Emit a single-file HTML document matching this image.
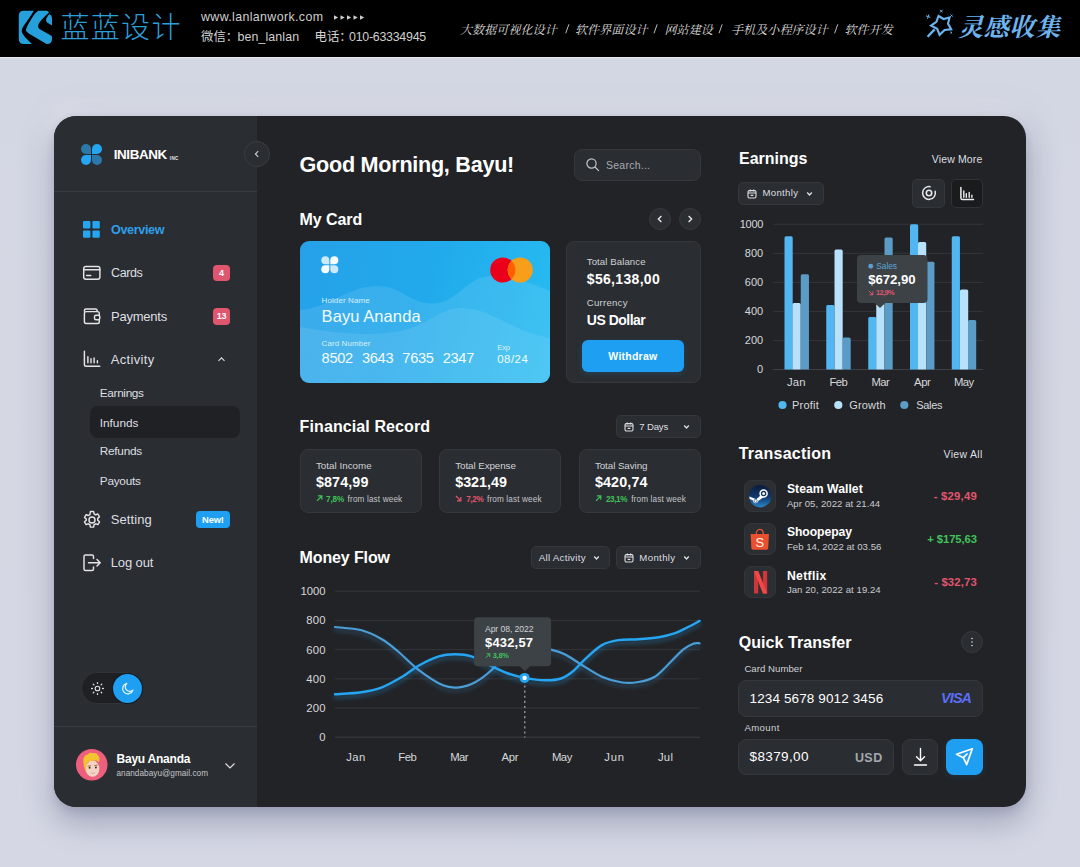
<!DOCTYPE html>
<html><head><meta charset="utf-8"><title>INIBANK Dashboard</title>
<style>
*{box-sizing:border-box;margin:0;padding:0}
html,body{width:1080px;height:867px;overflow:hidden}
body{position:relative;background:#d4d7e2;font-family:"Liberation Sans",sans-serif;color:#fff;-webkit-font-smoothing:antialiased}
.a{position:absolute}
.t{position:absolute;white-space:nowrap;line-height:1;}
.b{font-weight:bold}
svg{position:absolute;overflow:visible}
#bg{left:0;top:0;width:1080px;height:867px;background:linear-gradient(180deg,#d3d7e3 0%,#d5d8e3 50%,#d5d8e4 100%)}
#hdr{left:0;top:0;width:1080px;height:56.7px;background:#000;box-shadow:0 1px 1px rgba(240,242,250,.6)}
#panel{left:54px;top:116px;width:972px;height:691px;border-radius:22px;background:#222326;box-shadow:0 18px 30px rgba(85,90,125,.30),0 4px 8px rgba(85,90,125,.2),0 0 36px rgba(95,100,140,.2),-6px -10px 22px rgba(255,255,255,.42);overflow:hidden}
#side{left:0;top:0;width:203px;height:691px;background:#2a2d31}
.box{position:absolute;background:#2a2d31;border:1px solid #34373c;border-radius:8px}
.dd{position:absolute;background:#2a2d31;border:1px solid #34373b;border-radius:5px}
.g{color:#c9cbcf}
.nav{font-size:13px;color:#d4d6d9}
.sub{font-size:11.5px;color:#d4d6d9}
.h2{font-size:16px;font-weight:bold;letter-spacing:.1px}
.lbl{font-size:9.5px;color:#d0d2d6}
.val{font-size:14px;font-weight:bold}
.tiny{font-size:8px;color:#c4c6ca}
.ax{font-size:11px;color:#d6d8db}
.badge{position:absolute;border-radius:4px;color:#fff;font-size:8.5px;font-weight:bold;text-align:center}
</style></head><body>
<div id="bg" class="a"></div>
<div id="hdr" class="a"></div>

<svg id="hsvg" style="left:0;top:0" width="1080" height="57" viewBox="0 0 1080 57">
<g transform="translate(18.8,10.8)" fill="#26a0da"><path d="M5 0H15C12 5.5 8 10.5 5.3 14.5C2.5 18.5 2.3 20.5 4.3 23.6C6.5 27 10 30 13.2 33.2H5Q0 33.2 0 28.200V5Q0 0 5 0Z"/><path d="M19.5 0H27.5Q29.6 0 30.2 1.800C25.6 5.800 22 10 20.600 11.900C19 14 18.800 16.800 21.100 18.500L32.500 25Q33.2 25.400 33.200 26.500V28.200Q33.200 33.200 28.200 33.200H27.700L9.900 22.600C7 20.500 6.800 19.500 7.600 17.500C9 14 12 9 15.500 3.800Q17 1.500 19.500 0Z"/><path d="M30.7 3.300Q33.2 4.500 33.200 7.500V14.700L28.700 11.900Q26.500 10.300 27.700 7.400Q28.800 5.300 30.700 3.300Z"/></g>
<text x="60.5" y="38" font-family="'Liberation Sans','Noto Sans CJK SC',sans-serif" font-size="29" font-weight="300" letter-spacing="1.3" fill="#2a9fd8">蓝蓝设计</text>
<path fill="#cfcfcf" d="M334.0 15.2L338.2 17.5L334.0 19.8ZM340.5 15.2L344.7 17.5L340.5 19.8ZM347.0 15.2L351.2 17.5L347.0 19.8ZM353.5 15.2L357.7 17.5L353.5 19.8ZM360.0 15.2L364.2 17.5L360.0 19.8Z"/>
<text x="201" y="40.5" font-family="'Liberation Sans','Noto Sans CJK SC',sans-serif" font-size="12.4" fill="#d4d4d4">微信：</text>
<text x="314.5" y="40.5" font-family="'Liberation Sans','Noto Sans CJK SC',sans-serif" font-size="12.4" fill="#d4d4d4">电话：</text>
<g font-family="'Liberation Serif','Noto Serif CJK SC',serif" font-size="12.1" font-style="italic" fill="#dcdcdc">
<text x="460" y="33.5">大数据可视化设计</text>
<text x="575" y="33.5">软件界面设计</text>
<text x="664.5" y="33.5">网站建设</text>
<text x="731" y="33.5">手机及小程序设计</text>
<text x="844.5" y="33.5">软件开发</text>
</g>
<path stroke="#d0d0d0" stroke-width=".9" fill="none" d="M565.7 33.3L568.9 24.3M654.0 33.3L657.2 24.3M719.0 33.3L722.2 24.3M834.6 33.3L837.8 24.3"/>
<text x="958" y="35.5" font-family="'Liberation Serif','Noto Serif CJK SC',serif" font-size="25" font-style="italic" font-weight="bold" letter-spacing="0.8" fill="#6db3ee">灵感收集</text>
<g stroke="#6db3ee" fill="none" stroke-width="2.1" stroke-linejoin="miter" transform="translate(0,-0.8)"><path d="M938.5 16.8L943.6 19.8L949.6 18.2L948 24.4L951.2 30.2L944.6 30.8L939.6 35.6L937.2 29.6L931 26.4L936.4 22.6Z"/><path d="M934.6 30.2L927.6 37.6" stroke-width="2.4"/><path d="M926 16.6L930.4 18.2M928.9 15.2L927.5 19.6M940 10.6L942.6 13.2M942.6 10.6L940 13.2M950.6 15.4L952.6 17.4M952.6 15.4L950.6 17.4M950.4 32.6L952 34.2M952 32.6L950.4 34.2" stroke-width="1"/></g>
</svg>
<div class="t" style="letter-spacing:0.37px;left:201px;top:11px;font-size:12.4px;color:#cfcfcf">www.lanlanwork.com</div>
<div class="t" style="letter-spacing:0.10px;left:237.5px;top:31px;font-size:12.4px;color:#cfcfcf">ben_lanlan</div>
<div class="t" style="letter-spacing:-0.25px;left:349px;top:31px;font-size:12.4px;color:#cfcfcf">010-63334945</div>
<div id="panel" class="a"><div id="side" class="a"></div><div class="a" style="left:0;top:74.5px;width:203px;height:1px;background:#383b40"></div><div class="a" style="left:0;top:609.5px;width:203px;height:1px;background:#383b40"></div></div>
<svg style="left:81.3px;top:143.8px" width="21" height="21" viewBox="0 0 21 21" ><path d="M5 0A5 5 0 0 0 0 5A5 5 0 0 0 5 10H10V5A5 5 0 0 0 5 0Z" fill="#2b78ab"/><path d="M16 0A5 5 0 0 1 21 5A5 5 0 0 1 16 10H11V5A5 5 0 0 1 16 0Z" fill="#25a5f2"/><path d="M5 21A5 5 0 0 1 0 16A5 5 0 0 1 5 11H10V16A5 5 0 0 1 5 21Z" fill="#25a5f2"/><path d="M16 21A5 5 0 0 0 21 16A5 5 0 0 0 16 11H11V16A5 5 0 0 0 16 21Z" fill="#2b78ab"/></svg>
<div class="t" style="letter-spacing:-0.37px;left:113.7px;top:148px;font-size:13.4px;font-weight:bold">INIBANK</div>
<div class="t" style="letter-spacing:0.34px;left:169.8px;top:157px;font-size:4.6px;font-weight:bold;color:#e4e6e9">INC</div>
<div class="a" style="left:243.6px;top:141.3px;width:26px;height:26px;background:#2a2d31;border-radius:13px;border:1px solid #3a3d42"></div>
<svg style="left:252.6px;top:150.3px" width="8" height="8" viewBox="0 0 8 8" ><path d="M5.2 1.2L2.4 4L5.2 6.8" stroke="#d0d2d6" stroke-width="1.1" fill="none"/></svg>
<svg style="left:83.2px;top:221.4px" width="16.8" height="16.8" viewBox="0 0 16.8 16.8" fill="#25a5f2"><rect x="0" y="0" width="7.4" height="7.4" rx="1"/><rect x="9.4" y="0" width="7.4" height="7.4" rx="1"/><rect x="0" y="9.4" width="7.400" height="7.400" rx="1"/><rect x="9.400" y="9.400" width="7.400" height="7.400" rx="1"/></svg>
<div class="t" style="letter-spacing:-0.35px;left:111px;top:224px;font-size:12.6px;font-weight:bold;color:#2f9fe8">Overview</div>
<svg style="left:0px;top:0px" width="1080" height="867" viewBox="0 0 1080 867" ><g fill="none" stroke="#e2e4e7" stroke-width="1.45" stroke-linecap="round" stroke-linejoin="round"><rect x="83.7" y="266.500" width="16.200" height="12.800" rx="2.200"/><path d="M83.700 269.700H99.900M86.600 275.500H90.800"/><path d="M84.400 311.200V310.500Q84.400 309 85.900 309H95.600Q97.100 309 97.100 310.500V311.600"/><rect x="84.400" y="311.600" width="14.900" height="11.900" rx="1.800"/><rect x="94.500" y="315.200" width="5.300" height="4.600" rx="1.500" fill="#2a2d31"/><path d="M84.400 351.200V364.500Q84.400 366.300 86.200 366.300H99.800M87.900 356.600V362.800M91 358.800V362.800M94.100 358V362.800M97.400 360.800V362.800"/></g></svg>
<div class="t" style="letter-spacing:-0.39px;left:111px;top:267px;font-size:12.5px;color:#dddfe2">Cards</div>
<div class="badge" style="left:213.1px;top:264.900px;width:16.700px;height:16.500px;background:#e0566f"></div>
<div class="t" style="left:121.4px;width:200px;text-align:center;top:269px;font-size:9px;font-weight:bold">4</div>
<div class="t" style="letter-spacing:-0.23px;left:111px;top:310px;font-size:13px;color:#dddfe2">Payments</div>
<div class="badge" style="left:213.1px;top:308.100px;width:16.700px;height:16.500px;background:#e0566f"></div>
<div class="t" style="letter-spacing:-0.42px;left:121.4px;width:200px;text-align:center;top:312px;font-size:9px;font-weight:bold">13</div>
<div class="t" style="letter-spacing:0.35px;left:110.7px;top:353px;font-size:13px;color:#dddfe2">Activity</div>
<svg style="left:217px;top:355.3px" width="9" height="8" viewBox="0 0 9 8" ><path d="M1.5 5.800L4.500 2.800L7.500 5.800" stroke="#dddfe2" stroke-width="1.100" fill="none"/></svg>
<div class="a" style="left:89.6px;top:406.3px;width:150.4px;height:31.8px;background:#202124;border-radius:8px"></div>
<div class="t" style="letter-spacing:-0.34px;left:99.8px;top:388px;font-size:11.8px;color:#dddfe2">Earnings</div>
<div class="t" style="letter-spacing:-0.02px;left:99.8px;top:418px;font-size:11.8px;color:#dddfe2">Infunds</div>
<div class="t" style="letter-spacing:-0.26px;left:99.8px;top:446px;font-size:11.8px;color:#dddfe2">Refunds</div>
<div class="t" style="letter-spacing:-0.26px;left:99.8px;top:476px;font-size:11.8px;color:#dddfe2">Payouts</div>
<svg style="left:82px;top:509.5px" width="20" height="20" viewBox="0 0 20 20" fill="none" stroke="#e2e4e7" stroke-width="1.450" stroke-linejoin="round"><circle cx="10" cy="10" r="3"/><path d="M8.4 1.500h3.200l.5 2.400 1.500.9 2.300-.8 1.600 2.800-1.800 1.600v1.800l1.800 1.600-1.600 2.800-2.300-.8-1.500.9-.5 2.400H8.400l-.5-2.400-1.500-.9-2.300.8-1.600-2.800 1.800-1.600V9.100L2.500 7.500l1.600-2.800 2.300.8 1.500-.9z"/></svg>
<div class="t" style="letter-spacing:0.10px;left:110.7px;top:513px;font-size:13px;color:#dddfe2">Setting</div>
<div class="badge" style="left:195.8px;top:511.200px;width:34.200px;height:16.400px;background:#1e9ff2"></div>
<div class="t" style="letter-spacing:-0.17px;left:112.9px;width:200px;text-align:center;top:516px;font-size:9.3px;font-weight:bold">New!</div>
<svg style="left:82px;top:552.5px" width="20" height="20" viewBox="0 0 20 20" fill="none" stroke="#e2e4e7" stroke-width="1.450" stroke-linejoin="round" stroke-linecap="round"><path d="M11.5 5.500V3.500Q11.500 2 10 2H3.500Q2 2 2 3.500V16Q2 17.500 3.500 17.500H10Q11.500 17.500 11.500 16V14"/><path d="M6.500 9.800H18M15 6.500L18.200 9.800L15 13"/></svg>
<div class="t" style="letter-spacing:-0.11px;left:110.7px;top:556px;font-size:13px;color:#dddfe2">Log out</div>
<div class="a" style="left:81.4px;top:672.4px;width:61.5px;height:32px;background:#1f2023;border-radius:16px;border:1px solid #303337"></div>
<div class="a" style="left:113.1px;top:674.2px;width:29px;height:29px;background:#1e9ff2;border-radius:14.5px;box-shadow:0 0 0 1px #14171b"></div>
<svg style="left:89.6px;top:681.2px" width="15" height="15" viewBox="0 0 15 15" fill="none" stroke="#dddfe2" stroke-width="1.100"><circle cx="7.5" cy="7.500" r="2.300"/><path d="M7.500 1.600V2.400M7.500 12.600V13.400M1.600 7.500H2.400M12.600 7.500H13.400M3.300 3.300L3.900 3.900M11.100 11.100L11.700 11.700M3.300 11.700L3.900 11.100M11.100 3.900L11.700 3.300" stroke-width="1.300" stroke-linecap="round"/></svg>
<svg style="left:120.8px;top:682px" width="13.4" height="13.4" viewBox="0 0 14 14" fill="none" stroke="#e8f6ff" stroke-width="1.300" stroke-linejoin="round"><path d="M6 1.500A5.500 5.500 0 1 0 12.500 8.500A4.600 4.600 0 0 1 6 1.500Z"/></svg>
<svg style="left:76.2px;top:748.5px" width="31.5" height="31.5" viewBox="0 0 31.5 31.5" ><circle cx="15.75" cy="15.750" r="15.750" fill="#ee5f7e"/><path d="M8 14C7.200 17 8.200 21.500 10.500 23.500L11 15Z" fill="#ee9a2e"/><ellipse cx="16.500" cy="19.700" rx="6.900" ry="8.100" fill="#f3d3c3"/><path d="M7.600 14.500C6.500 9 9 5.600 12 5.600C13 3.700 15.200 3.300 16.700 4.300C18.700 3.300 21.200 4.200 21.700 6.200C23.700 7.200 24 10.200 23 13C20.500 11 17.200 11.200 14.700 11.900C12.200 12.500 10.800 13.700 10.400 16.200L10.200 20.500C8.600 19 7.900 17 7.600 14.500Z" fill="#f3c330"/><path d="M11.600 17.200L15 16.700M18.300 16.500L21.600 16.200" stroke="#9a6a40" stroke-width=".9"/><circle cx="13.600" cy="18.800" r=".95" fill="#3a2a25"/><circle cx="19.900" cy="18.500" r=".95" fill="#3a2a25"/><path d="M14.800 24Q17 25 19.200 23.700" stroke="#c89a8a" stroke-width=".7" fill="none"/></svg>
<div class="t" style="letter-spacing:-0.23px;left:116.5px;top:753px;font-size:12px;font-weight:bold">Bayu Ananda</div>
<div class="t" style="letter-spacing:0.04px;left:116.5px;top:770px;font-size:8.2px;color:#c4c6ca">anandabayu@gmail.com</div>
<svg style="left:224px;top:761.5px" width="12" height="8" viewBox="0 0 12 8" ><path d="M1.5 1.500L6 6L10.500 1.500" stroke="#dddfe2" stroke-width="1.200" fill="none"/></svg>
<div class="t" style="letter-spacing:-0.27px;left:299.6px;top:154px;font-size:21.6px;font-weight:bold">Good Morning, Bayu!</div>
<div class="box" style="left:573.6px;top:149px;width:127.6px;height:32px"></div>
<svg style="left:585px;top:157.2px" width="15" height="15" viewBox="0 0 15 15" fill="none" stroke="#c4c6ca" stroke-width="1.200"><circle cx="6.5" cy="6.500" r="4.600"/><path d="M10 10L13.600 13.600" stroke-linecap="round"/></svg>
<div class="t" style="letter-spacing:0.25px;left:606px;top:160px;font-size:10.5px;color:#a9acb2">Search...</div>
<div class="t" style="letter-spacing:-0.07px;left:299.6px;top:212px;font-size:16px;font-weight:bold">My Card</div>
<div class="a" style="left:649px;top:208.1px;width:22px;height:22px;background:#2a2d31;border-radius:11px;border:1px solid #36393e"></div>
<div class="a" style="left:679px;top:208.1px;width:22px;height:22px;background:#2a2d31;border-radius:11px;border:1px solid #36393e"></div>
<svg style="left:655.8px;top:215.1px" width="8" height="8" viewBox="0 0 8 8" ><path d="M5.400 1L2.400 4L5.400 7" stroke="#dddfe2" stroke-width="1.500" fill="none"/></svg>
<svg style="left:686.2px;top:215.1px" width="8" height="8" viewBox="0 0 8 8" ><path d="M2.600 1L5.600 4L2.600 7" stroke="#dddfe2" stroke-width="1.500" fill="none"/></svg>
<div class="a" style="left:299.6px;top:240.800px;width:250.100px;height:141.800px;border-radius:9px;overflow:hidden;background:linear-gradient(105deg,#26a1e9 0%,#21a9eb 45%,#27bcf2 100%)"><svg style="left:0;top:0" width="250" height="142" viewBox="0 0 250 142"><path d="M0 69C28 67 50 45 76 45C102 45 110 62.500 132 62.500C158 62.500 166 35 192 35C216 35 234 44 251 50V142H0Z" fill="#fff" opacity=".10"/><path d="M0 86C35 92 70 96 100 90C130 84 138 67 162 67C192 67 215 93 251 97V142H0Z" fill="#fff" opacity=".09"/><circle cx="202.8" cy="29" r="12.600" fill="#eb001b"/><circle cx="220.200" cy="29" r="12.600" fill="#f79e1b"/><path d="M211.500 19.900A12.600 12.600 0 0 1 211.500 38.100A12.600 12.600 0 0 1 211.500 19.900Z" fill="#ff5f00"/><g fill="#f8fdff" transform="translate(21.3,15.300)"><path d="M4 0A4 4 0 0 0 0 4A4 4 0 0 0 4 8H8V4A4 4 0 0 0 4 0Z" opacity=".78"/><path d="M13 0A4 4 0 0 1 17 4A4 4 0 0 1 13 8H9V4A4 4 0 0 1 13 0Z"/><path d="M4 17A4 4 0 0 1 0 13A4 4 0 0 1 4 9H8V13A4 4 0 0 1 4 17Z"/><path d="M13 17A4 4 0 0 0 17 13A4 4 0 0 0 13 9H9V13A4 4 0 0 0 13 17Z" opacity=".78"/></g></svg></div>
<div class="t" style="letter-spacing:0.09px;left:321.6px;top:297px;font-size:8px;color:#d8f0fc">Holder Name</div>
<div class="t" style="letter-spacing:0.08px;left:321.6px;top:308px;font-size:16.5px;color:#f4fbff">Bayu Ananda</div>
<div class="t" style="letter-spacing:0.09px;left:321.6px;top:340px;font-size:8px;color:#d8f0fc">Card Number</div>
<div class="t" style="letter-spacing:-0.29px;left:321.6px;top:351px;font-size:14.6px;color:#f4fbff;word-spacing:5.3px">8502 3643 7635 2347</div>
<div class="t" style="letter-spacing:-0.22px;left:497.2px;top:344px;font-size:7.8px;color:#d8f0fc">Exp</div>
<div class="t" style="letter-spacing:0.52px;left:497.2px;top:354px;font-size:11.4px;color:#f4fbff">08/24</div>
<div class="box" style="left:566px;top:240.8px;width:135.2px;height:141.8px"></div>
<div class="t" style="letter-spacing:0.09px;left:586.8px;top:257px;font-size:9.6px;color:#d0d2d6">Total Balance</div>
<div class="t" style="letter-spacing:0.32px;left:586.8px;top:272px;font-size:14px;font-weight:bold">$56,138,00</div>
<div class="t" style="letter-spacing:0.25px;left:586.8px;top:298px;font-size:9.6px;color:#d0d2d6">Currency</div>
<div class="t" style="letter-spacing:-0.50px;left:586.8px;top:313px;font-size:14px;font-weight:bold">US Dollar</div>
<div class="a" style="left:582.3px;top:339.8px;width:102px;height:31.8px;background:#1e9ff2;border-radius:6px;box-shadow:0 2px 6px rgba(30,159,242,.18)"></div>
<div class="t" style="letter-spacing:0.25px;left:532.9px;width:200px;text-align:center;top:351px;font-size:10.5px;font-weight:bold">Withdraw</div>
<div class="t" style="letter-spacing:0.10px;left:299.6px;top:419px;font-size:16px;font-weight:bold">Financial Record</div>
<div class="dd" style="left:615.9px;top:414.6px;width:84.8px;height:23.6px"></div>
<svg style="left:624px;top:421.5px" width="10" height="10" viewBox="0 0 10 10" fill="none" stroke="#dddfe2" stroke-width="1.100"><rect x="1" y="1.6" width="8" height="7.4" rx="1.4"/><path d="M1 4H9M3.3 .6V2.400M6.700 .6V2.400M3.600 6.400H6.400"/></svg>
<div class="t" style="letter-spacing:-0.19px;left:639.3px;top:422px;font-size:9.6px;color:#dddfe2">7 Days</div>
<svg style="left:683px;top:424px" width="7" height="6" viewBox="0 0 7 6" ><path d="M1.2 1.6L3.500 3.900L5.800 1.600" stroke="#dddfe2" stroke-width="1.400" fill="none"/></svg>
<div class="box" style="left:299.6px;top:448.9px;width:122.4px;height:64.5px"></div>
<div class="t" style="letter-spacing:0.02px;left:315.9px;top:461px;font-size:9.8px;color:#d0d2d6">Total Income</div>
<div class="t" style="letter-spacing:0.14px;left:315.9px;top:475px;font-size:14.3px;font-weight:bold">$874,99</div>
<svg style="left:315.9px;top:495.4px" width="6.8" height="6.8" viewBox="0 0 7 7" ><path d="M1 6L6 1M2 1H6V5" stroke="#3fc25a" fill="none" stroke-width="1.250"/></svg>
<div class="t" style="letter-spacing:-0.12px;left:326px;top:496px;font-size:8.2px;font-weight:bold;color:#3fc25a">7,8%</div>
<div class="t" style="letter-spacing:0.14px;left:347.6px;top:496px;font-size:8.2px;color:#c4c6ca">from last week</div>
<div class="box" style="left:438.9px;top:448.9px;width:122.4px;height:64.5px"></div>
<div class="t" style="letter-spacing:-0.07px;left:455.2px;top:461px;font-size:9.8px;color:#d0d2d6">Total Expense</div>
<div class="t" style="letter-spacing:0.00px;left:455.2px;top:475px;font-size:14.3px;font-weight:bold">$321,49</div>
<svg style="left:455.2px;top:495.4px" width="6.8" height="6.8" viewBox="0 0 7 7" ><path d="M1 1L6 6M2 6H6V2" stroke="#e0566f" fill="none" stroke-width="1.250"/></svg>
<div class="t" style="letter-spacing:-0.39px;left:466.2px;top:496px;font-size:8.2px;font-weight:bold;color:#e0566f">7,2%</div>
<div class="t" style="letter-spacing:0.14px;left:487px;top:496px;font-size:8.2px;color:#c4c6ca">from last week</div>
<div class="box" style="left:578.6px;top:448.9px;width:122.4px;height:64.5px"></div>
<div class="t" style="letter-spacing:-0.07px;left:594.9px;top:461px;font-size:9.8px;color:#d0d2d6">Total Saving</div>
<div class="t" style="letter-spacing:0.15px;left:594.9px;top:475px;font-size:14.3px;font-weight:bold">$420,74</div>
<svg style="left:594.9px;top:495.4px" width="6.8" height="6.8" viewBox="0 0 7 7" ><path d="M1 6L6 1M2 1H6V5" stroke="#3fc25a" fill="none" stroke-width="1.250"/></svg>
<div class="t" style="letter-spacing:-0.40px;left:605.9px;top:496px;font-size:8.2px;font-weight:bold;color:#3fc25a">23,1%</div>
<div class="t" style="letter-spacing:0.14px;left:631.2px;top:496px;font-size:8.2px;color:#c4c6ca">from last week</div>
<div class="t" style="letter-spacing:-0.13px;left:299.6px;top:550px;font-size:16px;font-weight:bold">Money Flow</div>
<div class="dd" style="left:530.6px;top:545.9px;width:79.4px;height:23.4px"></div>
<div class="t" style="letter-spacing:0.25px;left:538.7px;top:553px;font-size:9.8px;color:#dddfe2">All Activity</div>
<svg style="left:593px;top:555px" width="7" height="6" viewBox="0 0 7 6" ><path d="M1.2 1.6L3.500 3.900L5.800 1.600" stroke="#dddfe2" stroke-width="1.400" fill="none"/></svg>
<div class="dd" style="left:615.9px;top:545.9px;width:84.8px;height:23.4px"></div>
<svg style="left:624px;top:552.6px" width="10" height="10" viewBox="0 0 10 10" fill="none" stroke="#dddfe2" stroke-width="1.100"><rect x="1" y="1.6" width="8" height="7.4" rx="1.4"/><path d="M1 4H9M3.3 .6V2.400M6.700 .6V2.400M3.600 6.400H6.400"/></svg>
<div class="t" style="letter-spacing:0.38px;left:639.3px;top:553px;font-size:9.6px;color:#dddfe2">Monthly</div>
<svg style="left:683px;top:555px" width="7" height="6" viewBox="0 0 7 6" ><path d="M1.2 1.6L3.500 3.900L5.800 1.600" stroke="#dddfe2" stroke-width="1.400" fill="none"/></svg>
<svg style="left:0px;top:0px" width="1080" height="867" viewBox="0 0 1080 867" ><g stroke="#34363b" stroke-width="1"><path d="M335 591.2H700M335 620.4H700M335 649.6H700M335 678.8H700M335 708H700"/><path d="M335 737.2H700" stroke="#3d3f44"/></g><defs><filter id="glow" x="-10%" y="-50%" width="120%" height="200%"><feGaussianBlur stdDeviation="2.2"/></filter></defs><g fill="none" stroke-linecap="round"><path d="M335 627C339.42 627.55 353.68 628.25 361.5 630.3C369.32 632.35 375.8 635.77 381.9 639.3C388 642.83 392 646.42 398.1 651.5C404.2 656.58 411.02 664.17 418.5 669.8C425.98 675.43 436.2 682.38 443 685.3C449.8 688.22 453.87 687.85 459.3 687.3C464.73 686.75 470.17 684.92 475.6 682C481.03 679.08 487.5 673.87 491.9 669.8C496.3 665.73 498.32 661.15 502 657.6C505.68 654.05 509.58 650.43 514 648.5C518.42 646.57 522.33 645.82 528.5 646C534.67 646.18 544.88 648.18 551 649.6C557.12 651.02 560.12 651.98 565.2 654.5C570.28 657.02 575.38 661 581.5 664.7C587.62 668.4 595.12 673.73 601.9 676.7C608.68 679.67 616.1 681.62 622.2 682.5C628.3 683.38 633.07 682.97 638.5 682C643.93 681.03 650.05 679.42 654.8 676.7C659.55 673.98 662.25 670.25 667 665.7C671.75 661.15 678.88 653.08 683.3 649.4C687.72 645.72 690.78 644.62 693.5 643.6C696.22 642.58 698.58 643.35 699.6 643.3" stroke="#3a8fcf" stroke-width="3" opacity=".3" filter="url(#glow)" transform="translate(0,3)"/><path d="M335 694.3C339.42 693.95 353.68 693.37 361.5 692.2C369.32 691.03 375.12 689.88 381.9 687.3C388.68 684.72 396.1 680.3 402.2 676.7C408.3 673.1 412.38 669.08 418.5 665.7C424.62 662.32 432.78 658.3 438.9 656.4C445.02 654.5 449.77 654.3 455.2 654.3C460.63 654.3 466.07 654.7 471.5 656.4C476.93 658.1 481.7 661.65 487.8 664.5C493.9 667.35 501.97 671.27 508.1 673.5C514.23 675.73 518.48 676.77 524.6 677.9C530.72 679.03 538.72 680.2 544.8 680.3C550.88 680.4 556.35 680.05 561.1 678.5C565.85 676.95 569.22 674.32 573.3 671C577.38 667.68 580.83 662.92 585.6 658.6C590.37 654.28 596.47 648.18 601.9 645.1C607.33 642.02 612.1 641.07 618.2 640.1C624.3 639.13 631.72 639.78 638.5 639.3C645.28 638.82 652.78 638.23 658.9 637.2C665.02 636.17 670.45 634.73 675.2 633.1C679.95 631.47 683.33 629.43 687.4 627.4C691.47 625.37 697.57 621.98 699.6 620.9" stroke="#25a5f2" stroke-width="3" opacity=".35" filter="url(#glow)" transform="translate(0,3)"/><path d="M335 627C339.42 627.55 353.68 628.25 361.5 630.3C369.32 632.35 375.8 635.77 381.9 639.3C388 642.83 392 646.42 398.1 651.5C404.2 656.58 411.02 664.17 418.5 669.8C425.98 675.43 436.2 682.38 443 685.3C449.8 688.22 453.87 687.85 459.3 687.3C464.73 686.75 470.17 684.92 475.6 682C481.03 679.08 487.5 673.87 491.9 669.8C496.3 665.73 498.32 661.15 502 657.6C505.68 654.05 509.58 650.43 514 648.5C518.42 646.57 522.33 645.82 528.5 646C534.67 646.18 544.88 648.18 551 649.6C557.12 651.02 560.12 651.98 565.2 654.5C570.28 657.02 575.38 661 581.5 664.7C587.62 668.4 595.12 673.73 601.9 676.7C608.68 679.67 616.1 681.62 622.2 682.5C628.3 683.38 633.07 682.97 638.5 682C643.93 681.03 650.05 679.42 654.8 676.7C659.55 673.98 662.25 670.25 667 665.7C671.75 661.15 678.88 653.08 683.3 649.4C687.72 645.72 690.78 644.62 693.5 643.6C696.22 642.58 698.58 643.35 699.6 643.3" stroke="#4a9ed8" stroke-width="2.200"/><path d="M335 694.3C339.42 693.95 353.68 693.37 361.5 692.2C369.32 691.03 375.12 689.88 381.9 687.3C388.68 684.72 396.1 680.3 402.2 676.7C408.3 673.1 412.38 669.08 418.5 665.7C424.62 662.32 432.78 658.3 438.9 656.4C445.02 654.5 449.77 654.3 455.2 654.3C460.63 654.3 466.07 654.7 471.5 656.4C476.93 658.1 481.7 661.65 487.8 664.5C493.9 667.35 501.97 671.27 508.1 673.5C514.23 675.73 518.48 676.77 524.6 677.9C530.72 679.03 538.72 680.2 544.8 680.3C550.88 680.4 556.35 680.05 561.1 678.5C565.85 676.95 569.22 674.32 573.3 671C577.38 667.68 580.83 662.92 585.6 658.6C590.37 654.28 596.47 648.18 601.9 645.1C607.33 642.02 612.1 641.07 618.2 640.1C624.3 639.13 631.72 639.78 638.5 639.3C645.28 638.82 652.78 638.23 658.9 637.2C665.02 636.17 670.45 634.73 675.2 633.1C679.95 631.47 683.33 629.43 687.4 627.4C691.47 625.37 697.57 621.98 699.6 620.9" stroke="#25a5f2" stroke-width="2.400"/></g><path d="M524.8 685.500V737.500" stroke="#b4b6ba" stroke-width="1.100" stroke-dasharray="2.100 3"/><circle cx="524.6" cy="677.900" r="5" fill="#25a5f2"/><circle cx="524.600" cy="677.900" r="2.200" fill="#fff"/><path d="M478.1 617.300H547.100Q551.100 617.300 551.100 621.300V662.300Q551.100 666.300 547.100 666.300H478.100Q474.100 666.300 474.100 662.300V621.300Q474.100 617.300 478.100 617.300Z" fill="#3d4246"/><path d="M519.3 666L524.800 671.200L530.300 666Z" fill="#3d4246"/></svg>
<div class="t" style="letter-spacing:0.02px;left:125.6px;width:200px;text-align:right;top:586px;font-size:11.3px;color:#d6d8db">1000</div>
<div class="t" style="letter-spacing:0.17px;left:125.6px;width:200px;text-align:right;top:615px;font-size:11.3px;color:#d6d8db">800</div>
<div class="t" style="letter-spacing:0.17px;left:125.6px;width:200px;text-align:right;top:645px;font-size:11.3px;color:#d6d8db">600</div>
<div class="t" style="letter-spacing:0.17px;left:125.6px;width:200px;text-align:right;top:674px;font-size:11.3px;color:#d6d8db">400</div>
<div class="t" style="letter-spacing:0.17px;left:125.6px;width:200px;text-align:right;top:703px;font-size:11.3px;color:#d6d8db">200</div>
<div class="t" style="letter-spacing:0.00px;left:125.6px;width:200px;text-align:right;top:732px;font-size:11.3px;color:#d6d8db">0</div>
<div class="t" style="letter-spacing:0.49px;left:256px;width:200px;text-align:center;top:752px;font-size:11.3px;color:#d6d8db">Jan</div>
<div class="t" style="letter-spacing:-0.53px;left:307.3px;width:200px;text-align:center;top:752px;font-size:11.3px;color:#d6d8db">Feb</div>
<div class="t" style="letter-spacing:-0.58px;left:359px;width:200px;text-align:center;top:752px;font-size:11.3px;color:#d6d8db">Mar</div>
<div class="t" style="letter-spacing:-0.25px;left:409.8px;width:200px;text-align:center;top:752px;font-size:11.3px;color:#d6d8db">Apr</div>
<div class="t" style="letter-spacing:-0.47px;left:461.9px;width:200px;text-align:center;top:752px;font-size:11.3px;color:#d6d8db">May</div>
<div class="t" style="letter-spacing:0.69px;left:514.5px;width:200px;text-align:center;top:752px;font-size:11.3px;color:#d6d8db">Jun</div>
<div class="t" style="letter-spacing:0.32px;left:565.6px;width:200px;text-align:center;top:752px;font-size:11.3px;color:#d6d8db">Jul</div>
<div class="t" style="letter-spacing:-0.07px;left:485px;top:625px;font-size:8.6px;color:#d0d2d6">Apr 08, 2022</div>
<div class="t" style="letter-spacing:0.23px;left:485px;top:637px;font-size:12.9px;font-weight:bold">$432,57</div>
<svg style="left:485px;top:652.7px" width="5.6" height="5.6" viewBox="0 0 7 7" ><path d="M1 6L6 1M2 1H6V5" stroke="#3fc25a" fill="none" stroke-width="1.250"/></svg>
<div class="t" style="letter-spacing:-0.29px;left:492.8px;top:652px;font-size:7.4px;font-weight:bold;color:#3fc25a">3,8%</div>
<div class="t" style="letter-spacing:0.00px;left:739px;top:151px;font-size:16px;font-weight:bold">Earnings</div>
<div class="t" style="letter-spacing:0.13px;left:782.4px;width:200px;text-align:right;top:154px;font-size:10.5px;color:#dddfe2">View More</div>
<div class="dd" style="left:738.4px;top:181.8px;width:85.4px;height:23.4px"></div>
<svg style="left:746.8px;top:188.7px" width="10" height="10" viewBox="0 0 10 10" fill="none" stroke="#dddfe2" stroke-width="1.100"><rect x="1" y="1.6" width="8" height="7.4" rx="1.4"/><path d="M1 4H9M3.3 .6V2.400M6.700 .6V2.400M3.600 6.400H6.400"/></svg>
<div class="t" style="letter-spacing:0.32px;left:762.5px;top:188px;font-size:9.6px;color:#dddfe2">Monthly</div>
<svg style="left:806px;top:191.2px" width="7" height="6" viewBox="0 0 7 6" ><path d="M1.2 1.6L3.500 3.900L5.800 1.600" stroke="#dddfe2" stroke-width="1.400" fill="none"/></svg>
<div class="dd" style="left:912px;top:179px;width:33px;height:28.5px"></div>
<div class="a" style="left:951px;top:179px;width:32px;height:28.5px;background:#1a1b1d;border-radius:5px;border:1px solid #303237"></div>
<svg style="left:920.6px;top:185.4px" width="16" height="16" viewBox="0 0 16 16" fill="none" stroke="#e6e8ea" stroke-width="1.500" stroke-linecap="round"><path d="M14.180 6.340A6.400 6.400 0 1 1 9.110 1.700"/><circle cx="8" cy="8" r="2.700" stroke-width="1.600"/></svg>
<svg style="left:958.6px;top:185.6px" width="16" height="16" viewBox="0 0 16 16" fill="none" stroke="#eceef0" stroke-width="1.500" stroke-linecap="round"><path d="M1.900 1.400V12Q1.900 13.600 3.500 13.600H14.500"/><path d="M4.800 4.900V11.200M7.300 7.700V11.200M10.200 6.500V11.200M12.900 9.200V11.200" stroke-width="1.400"/></svg>
<svg style="left:0px;top:0px" width="1080" height="867" viewBox="0 0 1080 867" ><g stroke="#34363b" stroke-width="1"><path d="M773 224.25H983M773 253.3H983M773 282.35H983M773 311.4H983M773 340.45H983"/><path d="M773 369.5H983" stroke="#3d3f44"/></g><path d="M784.5 369.5V237.75Q784.5 236.25 786 236.25H791.2Q792.7 236.25 792.7 237.75V369.5Z" fill="#52b6f0"/><path d="M792.5 369.5V304.5Q792.5 303 794 303H799.2Q800.7 303 800.7 304.5V369.5Z" fill="#b8e2fb"/><path d="M800.75 369.5V275.75Q800.75 274.25 802.25 274.25H807.45Q808.95 274.25 808.95 275.75V369.5Z" fill="#5a9cc6"/><path d="M826.25 369.5V306.5Q826.25 305 827.75 305H832.95Q834.45 305 834.45 306.5V369.5Z" fill="#52b6f0"/><path d="M834.5 369.5V251Q834.5 249.5 836 249.5H841.2Q842.7 249.5 842.7 251V369.5Z" fill="#b8e2fb"/><path d="M842.5 369.5V339Q842.5 337.5 844 337.5H849.2Q850.7 337.5 850.7 339V369.5Z" fill="#5a9cc6"/><path d="M868.25 369.5V318.5Q868.25 317 869.75 317H874.95Q876.45 317 876.45 318.5V369.5Z" fill="#52b6f0"/><path d="M876.25 369.5V305.25Q876.25 303.75 877.75 303.75H882.95Q884.45 303.75 884.45 305.25V369.5Z" fill="#b8e2fb"/><path d="M884.5 369.5V239Q884.5 237.5 886 237.5H891.2Q892.7 237.5 892.7 239V369.5Z" fill="#5a9cc6"/><path d="M910 369.5V225.75Q910 224.25 911.5 224.25H916.7Q918.2 224.25 918.2 225.75V369.5Z" fill="#52b6f0"/><path d="M918 369.5V243.5Q918 242 919.5 242H924.7Q926.2 242 926.2 243.5V369.5Z" fill="#b8e2fb"/><path d="M926.25 369.5V263.25Q926.25 261.75 927.75 261.75H932.95Q934.45 261.75 934.45 263.25V369.5Z" fill="#5a9cc6"/><path d="M951.75 369.5V237.75Q951.75 236.25 953.25 236.25H958.45Q959.95 236.25 959.95 237.75V369.5Z" fill="#52b6f0"/><path d="M960 369.5V291Q960 289.5 961.5 289.5H966.7Q968.2 289.5 968.2 291V369.5Z" fill="#b8e2fb"/><path d="M968 369.5V321.5Q968 320 969.5 320H974.7Q976.2 320 976.2 321.5V369.5Z" fill="#5a9cc6"/><path d="M861 255H923.500Q927.500 255 927.500 259V299Q927.500 303 923.500 303H861Q857 303 857 299V259Q857 255 861 255Z" fill="#3d4246"/><path d="M874.5 302.700L880 308L885.500 302.700Z" fill="#3d4246"/><circle cx="870.75" cy="266.250" r="2.400" fill="#5aa0cf"/><circle cx="782.5" cy="405" r="4.100" fill="#52b6f0"/><circle cx="838.300" cy="405" r="4.100" fill="#b8e2fb"/><circle cx="904.300" cy="405" r="4.100" fill="#5a9cc6"/></svg>
<div class="t" style="letter-spacing:-0.23px;left:563.2px;width:200px;text-align:right;top:219px;font-size:11px;color:#d6d8db">1000</div>
<div class="t" style="letter-spacing:0.02px;left:563.2px;width:200px;text-align:right;top:248px;font-size:11px;color:#d6d8db">800</div>
<div class="t" style="letter-spacing:0.02px;left:563.2px;width:200px;text-align:right;top:277px;font-size:11px;color:#d6d8db">600</div>
<div class="t" style="letter-spacing:0.02px;left:563.2px;width:200px;text-align:right;top:306px;font-size:11px;color:#d6d8db">400</div>
<div class="t" style="letter-spacing:0.02px;left:563.2px;width:200px;text-align:right;top:335px;font-size:11px;color:#d6d8db">200</div>
<div class="t" style="letter-spacing:0.00px;left:563.2px;width:200px;text-align:right;top:364px;font-size:11px;color:#d6d8db">0</div>
<div class="t" style="letter-spacing:0.27px;left:696.4px;width:200px;text-align:center;top:377px;font-size:11.3px;color:#d6d8db">Jan</div>
<div class="t" style="letter-spacing:-0.61px;left:738.4px;width:200px;text-align:center;top:377px;font-size:11.3px;color:#d6d8db">Feb</div>
<div class="t" style="letter-spacing:-0.61px;left:780.4px;width:200px;text-align:center;top:377px;font-size:11.3px;color:#d6d8db">Mar</div>
<div class="t" style="letter-spacing:-0.30px;left:822.25px;width:200px;text-align:center;top:377px;font-size:11.3px;color:#d6d8db">Apr</div>
<div class="t" style="letter-spacing:-0.67px;left:863.75px;width:200px;text-align:center;top:377px;font-size:11.3px;color:#d6d8db">May</div>
<div class="t" style="letter-spacing:0.21px;left:792px;top:400px;font-size:11px;color:#d6d8db">Profit</div>
<div class="t" style="letter-spacing:0.16px;left:849.25px;top:400px;font-size:11px;color:#d6d8db">Growth</div>
<div class="t" style="letter-spacing:-0.32px;left:916.25px;top:400px;font-size:11px;color:#d6d8db">Sales</div>
<div class="t" style="letter-spacing:-0.05px;left:876.25px;top:262px;font-size:8.4px;color:#5aa4d6">Sales</div>
<div class="t" style="letter-spacing:-0.07px;left:868.25px;top:273px;font-size:13.2px;font-weight:bold">$672,90</div>
<svg style="left:868.25px;top:289.7px" width="5.6" height="5.6" viewBox="0 0 7 7" ><path d="M1 1L6 6M2 6H6V2" stroke="#e0566f" fill="none" stroke-width="1.250"/></svg>
<div class="t" style="letter-spacing:-0.62px;left:876px;top:289px;font-size:7.4px;font-weight:bold;color:#e0566f">12,9%</div>
<div class="t" style="letter-spacing:0.26px;left:738.7px;top:446px;font-size:16px;font-weight:bold">Transaction</div>
<div class="t" style="letter-spacing:0.30px;left:782.6px;width:200px;text-align:right;top:449px;font-size:10.5px;color:#dddfe2">View All</div>
<div class="a" style="left:744px;top:479.6px;width:32.3px;height:32.4px;background:#2b2e32;border-radius:7px;border:1px solid #32353a"></div>
<div class="a" style="left:744px;top:522.9px;width:32.3px;height:32.4px;background:#2b2e32;border-radius:7px;border:1px solid #32353a"></div>
<div class="a" style="left:744px;top:566px;width:32.3px;height:32.4px;background:#2b2e32;border-radius:7px;border:1px solid #32353a"></div>
<svg style="left:748.7px;top:484.9px" width="22.4" height="22.4" viewBox="0 0 22.4 22.4" ><defs><linearGradient id="stg" x1="0" y1="0" x2="0" y2="1"><stop offset="0" stop-color="#0a1a3a"/><stop offset=".55" stop-color="#123a70"/><stop offset="1" stop-color="#2a86c8"/></linearGradient></defs><circle cx="11.2" cy="11.200" r="11.200" fill="url(#stg)"/><circle cx="14.6" cy="8.400" r="3.500" fill="none" stroke="#fff" stroke-width="1.500"/><circle cx="14.600" cy="8.400" r="1.500" fill="#e8eef5"/><path d="M0.400 11.600L7.300 14.200L11.400 10.600L14.400 12.200L9.600 15.800Q8.700 18.800 5.800 18.200Q3.700 17.500 3.700 15.300L0.600 14.100Z" fill="#fff"/><circle cx="6.600" cy="15.900" r="1.600" fill="none" stroke="#1a4a8a" stroke-width=".7"/></svg>
<svg style="left:750.4px;top:527.8px" width="19.6" height="22" viewBox="0 0 19.6 22" ><path d="M6.2 7Q6.200 1.300 9.800 1.300Q13.400 1.300 13.400 7" fill="none" stroke="#e8502f" stroke-width="1.300"/><path d="M.6 6H19L18.200 20.300Q18.100 21.800 16.600 21.800H3Q1.500 21.800 1.400 20.300Z" fill="#ea4f2e"/><text x="9.800" y="19.200" font-family="Liberation Sans,sans-serif" font-size="13" fill="#fff5ee" text-anchor="middle">S</text></svg>
<svg style="left:753.7px;top:571.2px" width="13.2" height="22.5" viewBox="0 0 13.2 22.5" ><path d="M0 0H4.300V22.500H0Z" fill="#d0353a"/><path d="M8.900 0H13.200V22.500H8.900Z" fill="#d0353a"/><path d="M0 0H4.300L13.200 22.500H8.900Z" fill="#ee4a45"/></svg>
<div class="t" style="letter-spacing:0.04px;left:786.9px;top:483px;font-size:12.2px;font-weight:bold">Steam Wallet</div>
<div class="t" style="letter-spacing:0.05px;left:786.9px;top:499px;font-size:9.6px;color:#c9cbcf">Apr 05, 2022 at 21.44</div>
<div class="t" style="letter-spacing:0.22px;left:776.9px;width:200px;text-align:right;top:491px;font-size:11.3px;font-weight:bold;color:#e0566f">- $29,49</div>
<div class="t" style="letter-spacing:-0.06px;left:786.9px;top:526px;font-size:12.2px;font-weight:bold">Shoopepay</div>
<div class="t" style="letter-spacing:0.03px;left:786.9px;top:542px;font-size:9.6px;color:#c9cbcf">Feb 14, 2022 at 03.56</div>
<div class="t" style="letter-spacing:-0.11px;left:776.9px;width:200px;text-align:right;top:534px;font-size:11.3px;font-weight:bold;color:#3fc25a">+ $175,63</div>
<div class="t" style="letter-spacing:0.34px;left:786.9px;top:570px;font-size:12.2px;font-weight:bold">Netflix</div>
<div class="t" style="letter-spacing:0.05px;left:786.9px;top:585px;font-size:9.6px;color:#c9cbcf">Jan 20, 2022 at 19.24</div>
<div class="t" style="letter-spacing:0.15px;left:776.9px;width:200px;text-align:right;top:577px;font-size:11.3px;font-weight:bold;color:#e0566f">- $32,73</div>
<div class="t" style="letter-spacing:0.06px;left:738.7px;top:635px;font-size:16px;font-weight:bold">Quick Transfer</div>
<div class="a" style="left:961px;top:630.6px;width:22px;height:22px;background:#2a2d31;border-radius:11px;border:1px solid #36393e"></div>
<svg style="left:970px;top:636.6px" width="4" height="10" viewBox="0 0 4 10" fill="#dddfe2"><circle cx="2" cy="1.500" r=".8"/><circle cx="2" cy="5" r=".8"/><circle cx="2" cy="8.500" r=".8"/></svg>
<div class="t" style="letter-spacing:0.04px;left:744.4px;top:664px;font-size:9.6px;color:#d0d2d6">Card Number</div>
<div class="box" style="left:738.1px;top:679.7px;width:244.5px;height:37.1px"></div>
<div class="t" style="letter-spacing:0.12px;left:749.6px;top:692px;font-size:13.5px">1234 5678 9012 3456</div>
<div class="t" style="letter-spacing:-0.86px;left:941px;top:691px;font-size:14.4px;font-weight:bold;font-style:italic;color:#5b6ef5">VISA</div>
<div class="t" style="letter-spacing:0.38px;left:744.4px;top:723px;font-size:9.6px;color:#d0d2d6">Amount</div>
<div class="box" style="left:738.1px;top:738.6px;width:155.5px;height:36.6px"></div>
<div class="t" style="letter-spacing:0.36px;left:749.6px;top:750px;font-size:13.5px">$8379,00</div>
<div class="t" style="letter-spacing:0.45px;left:854.9px;top:752px;font-size:12.5px;font-weight:bold;color:#a5a8ae">USD</div>
<div class="box" style="left:901.7px;top:738.6px;width:36.5px;height:36.6px"></div>
<svg style="left:911.5px;top:746.7px" width="17" height="20" viewBox="0 0 17 20" fill="none" stroke="#fff" stroke-width="1.400" stroke-linecap="round" stroke-linejoin="round"><path d="M8.500 1.500V13.500M4.500 9.800L8.500 13.800L12.500 9.800M2.500 18H14.500"/></svg>
<div class="a" style="left:946.2px;top:738.6px;width:36.5px;height:36.6px;background:#1e9ff2;border-radius:8px;box-shadow:0 2px 6px rgba(30,159,242,.12)"></div>
<svg style="left:955.2px;top:747.4px" width="19" height="19" viewBox="0 0 19 19" fill="none" stroke="#fff" stroke-width="1.700" stroke-linejoin="round" stroke-linecap="round"><path d="M17.300 1.700L1.500 7.300L8.300 10.700L11.700 17.500Z"/><path d="M8.300 10.700L12 7"/></svg>
</body></html>
